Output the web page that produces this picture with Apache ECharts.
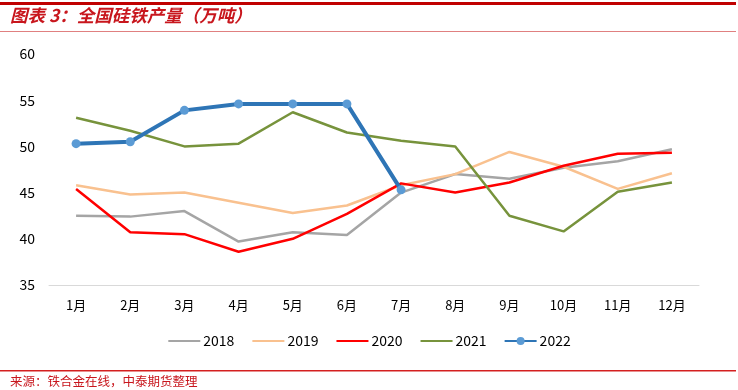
<!DOCTYPE html>
<html>
<head>
<meta charset="utf-8">
<script src="https://cdn.jsdelivr.net/npm/echarts@6/dist/echarts.min.js"></script>
<style>html,body{margin:0;padding:0;background:#fff;}#c{width:738px;height:390px;}</style>
</head>
<body>
<div id="c"></div>
<script>
const months = ['1月','2月','3月','4月','5月','6月','7月','8月','9月','10月','11月','12月'];
const s2018 = [42.5, 42.4, 43.0, 39.7, 40.7, 40.4, 45.0, 47.0, 46.5, 47.7, 48.4, 49.7];
const s2019 = [45.8, 44.8, 45.0, 43.9, 42.8, 43.6, 45.8, 47.0, 49.4, 47.8, 45.4, 47.1];
const s2020 = [45.4, 40.7, 40.5, 38.6, 40.0, 42.7, 46.0, 45.0, 46.1, 47.9, 49.2, 49.3];
const s2021 = [53.1, 51.7, 50.0, 50.3, 53.7, 51.5, 50.6, 50.0, 42.5, 40.8, 45.1, 46.1];
const s2022 = [50.3, 50.5, 53.9, 54.6, 54.6, 54.6, 45.3];
const yTicks = [35, 40, 45, 50, 55, 60];

const chart = echarts.init(document.getElementById('c'), null, {renderer: 'canvas'});
const font = "'Noto Sans CJK SC', 'Noto Sans', sans-serif";
function line(name, data, color, width) {
  return {name, type: 'line', data, symbol: 'none', lineStyle: {color, width}, itemStyle: {color}};
}
chart.setOption({
  animation: false,
  textStyle: {fontFamily: font},
  grid: {left: 49, right: 39, top: 54, bottom: 105},
  xAxis: {
    type: 'category', data: months, boundaryGap: true,
    axisLine: {lineStyle: {color: '#d9d9d9', width: 1}},
    axisTick: {show: false},
    axisLabel: {color: '#000', fontSize: 13, margin: 14, fontFamily: font}
  },
  yAxis: {
    type: 'value', min: yTicks[0], max: yTicks[yTicks.length - 1], interval: 5,
    axisLine: {show: false}, axisTick: {show: false}, splitLine: {show: false},
    axisLabel: {color: '#000', fontSize: 14, margin: 14, fontFamily: font}
  },
  legend: {
    bottom: 37, left: 'center', itemWidth: 32, itemHeight: 10, itemGap: 17,
    textStyle: {color: '#000', fontSize: 14, fontFamily: font, padding: [0, 0, 0, -2]},
    data: [
      {name: '2018', itemStyle: {opacity: 0}},
      {name: '2019', itemStyle: {opacity: 0}},
      {name: '2020', itemStyle: {opacity: 0}},
      {name: '2021', itemStyle: {opacity: 0}},
      {name: '2022'}
    ]
  },
  series: [
    line('2018', s2018, '#a5a5a5', 2.5),
    line('2019', s2019, '#f9c18f', 2.5),
    line('2020', s2020, '#ff0000', 2.5),
    line('2021', s2021, '#77933c', 2.5),
    {
      name: '2022', type: 'line', data: s2022, symbol: 'circle', symbolSize: 9,
      lineStyle: {color: '#2e75b6', width: 4}, itemStyle: {color: '#5b9bd5'},
      z: 5
    }
  ],
  graphic: [
    {type: 'rect', shape: {x: 0, y: 2, width: 736, height: 3}, style: {fill: '#c00000'}},
    {type: 'rect', shape: {x: 0, y: 31, width: 736, height: 1}, style: {fill: '#e08080'}},
    {type: 'text', left: 10, top: 7, style: {text: '图表 3：全国硅铁产量（万吨）', fill: '#c8161d', font: "italic bold 17.5px 'Noto Sans CJK SC'"}},
    {type: 'rect', shape: {x: 0, y: 370, width: 736, height: 1.5}, style: {fill: '#d42020'}},
    {type: 'text', left: 10, top: 375, style: {text: '来源：铁合金在线，中泰期货整理', fill: '#c8161d', font: "12.5px 'Noto Sans CJK SC'"}}
  ]
});
</script>
</body>
</html>
